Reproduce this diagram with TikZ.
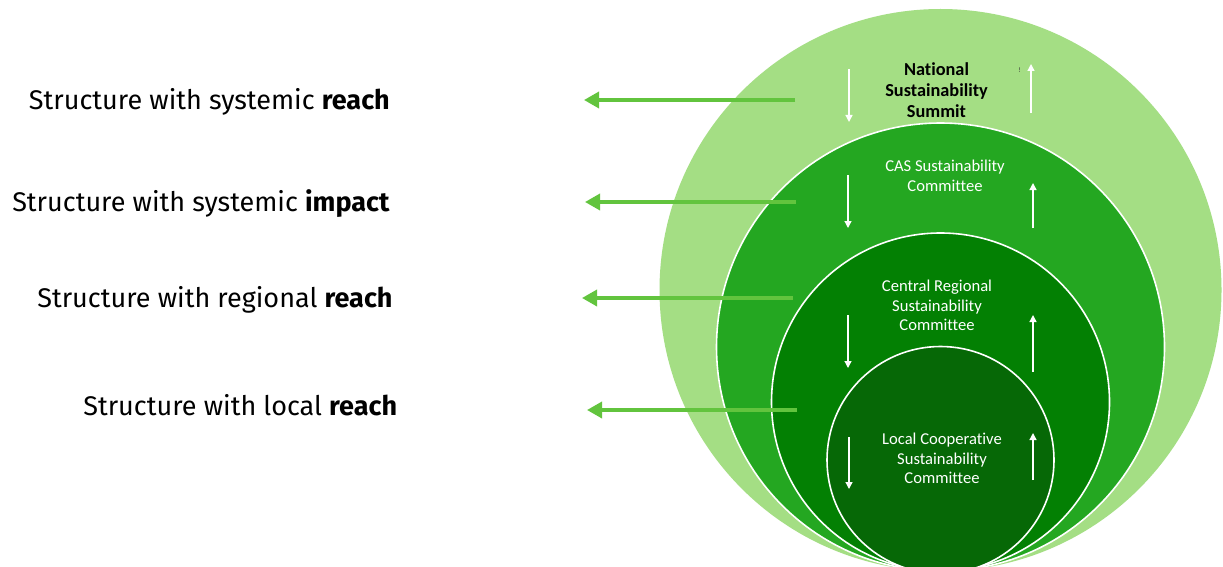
\documentclass[tikz,border=0pt]{standalone}
\usepackage{fontspec}
\setmainfont{Fira Sans}
\newfontfamily\calib[Ligatures=NoCommon]{Carlito}
\usetikzlibrary{arrows.meta}
\definecolor{ringA}{HTML}{A4DE84}
\definecolor{ringB}{HTML}{24A721}
\definecolor{ringC}{HTML}{038003}
\definecolor{ringD}{HTML}{066806}
\definecolor{pointer}{HTML}{62C43E}
\tikzset{
  ring/.style={draw=white, line width=1.6pt},
  pointerarrow/.style={draw=pointer, line width=3.4pt, -{Triangle[length=15pt,width=16pt]}},
  flow/.style={draw=white, line width=1.3pt, -{Triangle[length=7pt,width=7pt]}},
  lefttext/.style={anchor=base east, inner sep=0pt, font=\fontsize{27}{32}\selectfont},
  ringtext/.style={align=center, inner sep=0pt, text=white, font=\calib\fontsize{16.6}{19.5}\selectfont},
}
\begin{document}
\begin{tikzpicture}[x=1pt,y=-1pt]
\useasboundingbox (0,0) rectangle (1223,567);
\clip (0,0) rectangle (1223,567);
\fill[white] (0,0) rectangle (1223,567);
% rings (tangent at bottom)
\fill[ringA] (940.5,290) circle (281);
\filldraw[ring, fill=ringB] (940.5,347) circle (224);
\filldraw[ring, fill=ringC] (940.5,402) circle (169);
\filldraw[ring, fill=ringD] (940.5,460) circle (113.5);
% ring labels
\node[align=center, inner sep=0pt, font=\calib\bfseries\fontsize{18.3}{21}\selectfont] (nat) at (936.5,90) {National\\Sustainability\\Summit};
\node[inner sep=0pt, text=black!80, font=\calib\fontsize{7}{8}\selectfont] (mark) at (1019.5,70) {!};
\node[ringtext] (cas) at (945,176) {CAS Sustainability\\Committee};
\node[ringtext] (reg) at (937,305.5) {Central Regional\\Sustainability\\Committee};
\node[ringtext] (loc) at (942,458.5) {Local Cooperative\\Sustainability\\Committee};
% white flow arrows
\coordinate (nd1) at (849,69);  \coordinate (nd2) at (849,122);
\coordinate (nu1) at (1031,113); \coordinate (nu2) at (1031,64);
\coordinate (cd1) at (848,175); \coordinate (cd2) at (848,228);
\coordinate (cu1) at (1033,228); \coordinate (cu2) at (1033,183);
\coordinate (rd1) at (848,315); \coordinate (rd2) at (848,368);
\coordinate (ru1) at (1033,372); \coordinate (ru2) at (1033,315);
\coordinate (ld1) at (849,437); \coordinate (ld2) at (849,489);
\coordinate (lu1) at (1033,480); \coordinate (lu2) at (1033,433);
\foreach \a/\b in {nd1/nd2,nu1/nu2,cd1/cd2,cu1/cu2,rd1/rd2,ru1/ru2,ld1/ld2,lu1/lu2}
  \draw[flow] (\a) -- (\b);
% left texts
\node[lefttext] (t1) at (390,109.3) {Structure with systemic \textbf{reach}};
\node[lefttext] (t2) at (390,211) {Structure with systemic \textbf{impact}};
\node[lefttext] (t3) at (392.7,307) {Structure with regional \textbf{reach}};
\node[lefttext] (t4) at (397.3,415) {Structure with local \textbf{reach}};
% green pointer arrows
\coordinate (s1) at (795,100); \coordinate (e1) at (584,100);
\coordinate (s2) at (796,202); \coordinate (e2) at (585,202);
\coordinate (s3) at (793,298); \coordinate (e3) at (582,298);
\coordinate (s4) at (797,410); \coordinate (e4) at (587,410);
\draw[pointerarrow] (s1) -- (e1);
\draw[pointerarrow] (s2) -- (e2);
\draw[pointerarrow] (s3) -- (e3);
\draw[pointerarrow] (s4) -- (e4);
\end{tikzpicture}
\end{document}
